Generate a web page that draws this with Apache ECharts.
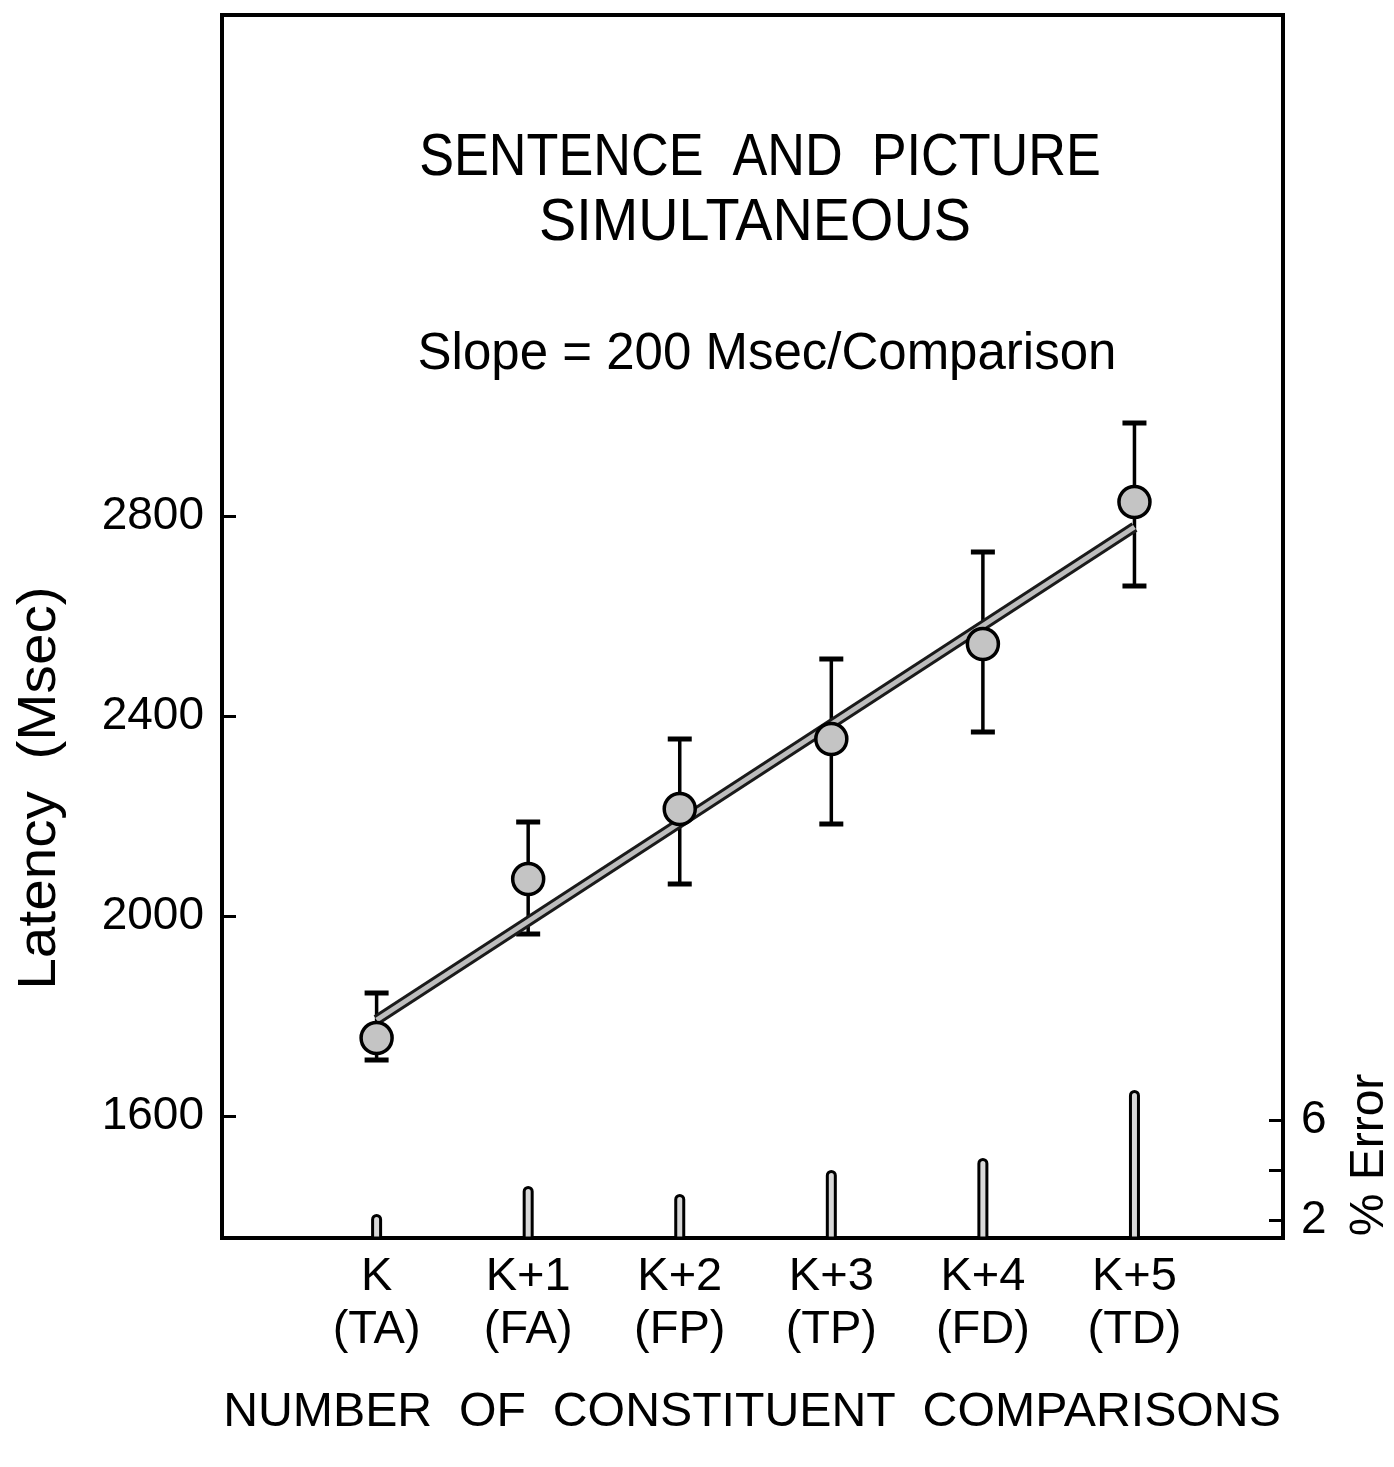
<!DOCTYPE html>
<html>
<head>
<meta charset="utf-8">
<script src="https://cdn.jsdelivr.net/npm/echarts@6/dist/echarts.min.js"></script>
<style>html,body{margin:0;padding:0;background:#fff}#c{width:1394px;height:1467px}</style>
</head>
<body>
<div id="c"></div>
<script>
// ---- data ----
var xPos = [0, 1, 2, 3, 4, 5];
var xTop = ['K', 'K+1', 'K+2', 'K+3', 'K+4', 'K+5'];
var xBottom = ['(TA)', '(FA)', '(FP)', '(TP)', '(FD)', '(TD)'];
var latency = [1756, 2074, 2214, 2354, 2544, 2828];
var errLow = [1712, 1964, 2064, 2184, 2368, 2660];
var errHigh = [1846, 2188, 2354, 2514, 2728, 2986];
var fitX = [0, 5];
var fitY = [1792, 2778];
var pctError = [2.24, 3.36, 3.04, 4.0, 4.48, 7.2];
var leftTicks = [1600, 2000, 2400, 2800];
var rightTicks = [2, 4, 6];
var rightLabels = [2, 6];

var FONT = 'Liberation Sans, Arial, sans-serif';
var chart = echarts.init(document.getElementById('c'), null, {renderer: 'canvas'});

function pairs(xs, ys) { return xs.map(function (x, i) { return [x, ys[i]]; }); }

function txt(text, x, y, size, opts) {
  opts = opts || {};
  return {
    type: 'text', x: x, y: y, rotation: opts.rotation || 0, scaleX: opts.sx || 1, scaleY: 1,
    style: {text: text, font: size + 'px ' + FONT, fill: '#000', textAlign: 'center', textVerticalAlign: 'middle'}
  };
}

var option = {
  animation: false,
  backgroundColor: '#fff',
  grid: {left: 222, right: 111, top: 15, bottom: 229, show: true, borderColor: '#000', borderWidth: 4, backgroundColor: 'transparent'},
  xAxis: {
    type: 'value', min: -1.02, max: 5.98,
    splitLine: {show: false}, axisLine: {show: false, onZero: false}, axisTick: {show: false},
    axisLabel: {
      customValues: xPos, margin: 13, color: '#000', fontFamily: FONT, fontSize: 47, lineHeight: 53,
      formatter: function (v) { var i = Math.round(v); return xTop[i] + '\n' + xBottom[i]; }
    }
  },
  yAxis: [{
    type: 'value', min: 1356, max: 3802,
    splitLine: {show: false}, axisLine: {show: false, onZero: false},
    axisTick: {show: true, inside: true, length: 14, customValues: leftTicks, lineStyle: {color: '#000', width: 3}},
    axisLabel: {customValues: leftTicks, margin: 18, color: '#000', fontFamily: FONT, fontSize: 46,
      formatter: function (v) { return String(v); }}
  }, {
    type: 'value', min: 1.28, max: 50.2, position: 'right',
    splitLine: {show: false}, axisLine: {show: false, onZero: false},
    axisTick: {show: true, inside: true, length: 14, customValues: rightTicks, lineStyle: {color: '#000', width: 3}},
    axisLabel: {customValues: rightLabels, margin: 18, color: '#000', fontFamily: FONT, fontSize: 46,
      formatter: function (v) { return String(v); }}
  }],
  graphic: [
    txt('SENTENCE  AND  PICTURE', 760, 158, 60, {sx: 0.87}),
    txt('SIMULTANEOUS', 755, 223, 60, {sx: 0.93}),
    txt('Slope = 200 Msec/Comparison', 767, 355, 51),
    txt('NUMBER  OF  CONSTITUENT  COMPARISONS', 752, 1413, 48, {sx: 1.005}),
    txt('Latency  (Msec)', 40, 788, 53, {rotation: Math.PI / 2, sx: 1.07}),
    txt('% Error', 1370, 1155, 48, {rotation: Math.PI / 2})
  ],
  series: [
    {
      type: 'bar', yAxisIndex: 1, data: pairs(xPos, pctError), barWidth: 11,
      itemStyle: {color: '#d8d8d8', borderColor: '#000', borderWidth: 3, borderRadius: [5, 5, 0, 0]}, z: 2
    },
    {
      type: 'custom', yAxisIndex: 0, z: 3,
      data: xPos.map(function (x, i) { return [x, errLow[i], errHigh[i]]; }),
      renderItem: function (params, api) {
        var lo = api.coord([api.value(0), api.value(1)]);
        var hi = api.coord([api.value(0), api.value(2)]);
        var w = 12;
        return {type: 'group', children: [
          {type: 'line', shape: {x1: lo[0], y1: lo[1], x2: hi[0], y2: hi[1]}, style: {stroke: '#000', lineWidth: 3.5}},
          {type: 'line', shape: {x1: lo[0] - w, y1: lo[1], x2: lo[0] + w, y2: lo[1]}, style: {stroke: '#000', lineWidth: 5}},
          {type: 'line', shape: {x1: hi[0] - w, y1: hi[1], x2: hi[0] + w, y2: hi[1]}, style: {stroke: '#000', lineWidth: 5}}
        ]};
      }
    },
    {type: 'line', data: pairs(fitX, fitY), showSymbol: false, lineStyle: {color: '#1a1a1a', width: 11}, z: 4},
    {type: 'line', data: pairs(fitX, fitY), showSymbol: false, lineStyle: {color: '#bdbdbd', width: 5}, z: 5},
    {
      type: 'scatter', data: pairs(xPos, latency), symbolSize: 31, z: 6,
      itemStyle: {color: '#c4c4c4', borderColor: '#000', borderWidth: 3.5, opacity: 1}
    }
  ]
};
chart.setOption(option);
</script>
</body>
</html>
